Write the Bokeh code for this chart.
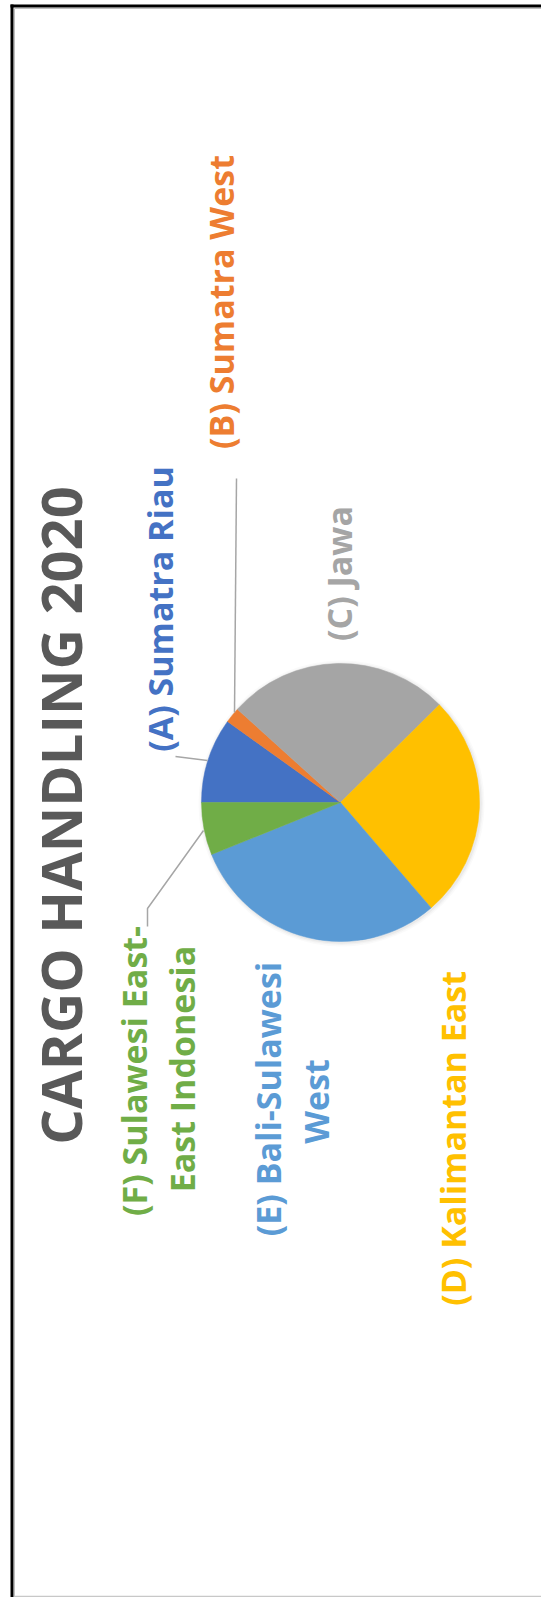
import numpy as np
from bokeh.plotting import figure
from bokeh.models import Range1d, ColumnDataSource
from bokeh.core.properties import value
from bokeh.embed import file_html
from bokeh.resources import INLINE

# ---- data ----
regions = ["(A) Sumatra Riau", "(B) Sumatra West", "(C) Jawa",
           "(D) Kalimantan East", "(E) Bali-Sulawesi West",
           "(F) Sulawesi East-East Indonesia"]
shares = [9.9, 1.8, 25.9, 26.1, 30.2, 6.1]
colors = ["#4472C4", "#ED7D31", "#A5A5A5", "#FFC000", "#5B9BD5", "#70AD47"]
title_text = "CARGO HANDLING 2020"

W, H = 541, 1597

def X(px):
    return px

def Y(py):
    return H - py

p = figure(width=W, height=H, output_backend="svg", toolbar_location=None,
           x_range=Range1d(0, W), y_range=Range1d(0, H), min_border=0)
p.axis.visible = False
p.grid.visible = False
p.outline_line_color = None
p.background_fill_color = "white"
p.border_fill_color = "white"

# frame
p.line([X(11.5), X(11.5)], [Y(4), Y(1597)], line_color="black", line_width=3)
p.line([X(10), X(541)], [Y(5.5), Y(5.5)], line_color="black", line_width=3)
p.line([X(14), X(14)], [Y(8), Y(1597)], line_color="#C0C0C0", line_width=1)
p.line([X(14), X(541)], [Y(8), Y(8)], line_color="#C0C0C0", line_width=1)
p.line([X(14), X(541)], [Y(1596), Y(1596)], line_color="#C8C8C8", line_width=1.5)

# pie
cx, cy, r = X(340), Y(802), 139
total = float(sum(shares))
frac = np.array(shares) / total
cum = np.concatenate([[0.0], np.cumsum(frac)])
start = np.pi - 2 * np.pi * cum[1:]
end = np.pi - 2 * np.pi * cum[:-1]
src = ColumnDataSource(dict(region=regions, share=shares, color=colors,
                            start=start, end=end))
# soft shadow
for dr, a in [(4, 0.04), (2.5, 0.06), (1.2, 0.08)]:
    p.scatter([cx + 1], [cy - 1], size=2 * (r + dr), marker="circle",
              fill_color="#808080", fill_alpha=a, line_color=None)
p.wedge(x=cx, y=cy, radius=r, start_angle="start", end_angle="end",
        fill_color="color", line_color="color", line_width=0.5, source=src)

# leader lines
lc = "#A6A6A6"
p.line([X(236), X(234)], [Y(478), Y(712)], line_color=lc, line_width=1.5)
p.line([X(175), X(207)], [Y(756), Y(760)], line_color=lc, line_width=1.5)
p.line([X(147), X(147), X(203)], [Y(926), Y(908), Y(830)], line_color=lc, line_width=1.5)

font = value("Open Sans")
ang = np.pi / 2

def label(px, py, txt, color, size, bold=True):
    p.text([X(px)], [Y(py)], text=[txt], angle=ang, text_align="center",
           text_baseline="middle", text_color=color, text_font=font,
           text_font_size=f"{size}px",
           text_font_style="bold" if bold else "normal")

LS = 34
label(59, 815, title_text, "#595959", 56)
label(220, 301.5, "(B) Sumatra West", colors[1], LS)
label(159.5, 608.5, "(A) Sumatra Riau", colors[0], LS)
label(338.5, 573, "(C) Jawa", colors[2], LS)
label(133, 1070.5, "(F) Sulawesi East-", colors[5], LS)
label(181.5, 1068.5, "East Indonesia", colors[5], LS)
label(267.5, 1098.5, "(E) Bali-Sulawesi", colors[4], LS)
label(315.5, 1101, "West", colors[4], LS)
label(452.5, 1133.5, "(D) Kalimantan  East", colors[3], LS)

open("out.html", "w").write(file_html(p, INLINE))
